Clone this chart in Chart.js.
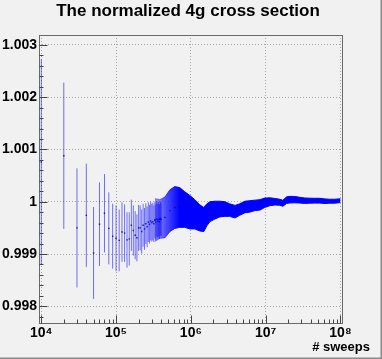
<!DOCTYPE html>
<html>
<head>
<meta charset="utf-8">
<script src="https://cdn.jsdelivr.net/npm/chart.js@4.4.1/dist/chart.umd.min.js"></script>
<style>
  html, body { margin: 0; padding: 0; background: #f1f1f1; }
  canvas { display: block; }
</style>
</head>
<body>
<canvas id="c" width="382" height="359"></canvas>
<script>
// ---- data ----
const sweeps = [10000, 20000, 30000, 40000, 50000, 60000, 70000, 80000, 90000, 100000,
  110000, 120000, 130000, 140000, 150000, 160000, 170000, 180000, 190000, 200000,
  210000, 220000, 230000, 240000, 250000, 260000, 270000, 280000, 290000, 300000,
  310000, 320000, 330000, 340000, 350000, 360000, 370000, 380000, 390000, 400000];
const sparseVals = [1.00076, 1.00088, 0.99950, 0.99974, 0.99902, 0.99957, 0.99978, 0.99949, 0.99934, 0.99930,
  0.99926, 0.99942, 0.99940, 0.99927, 0.99929, 0.99955, 0.99945, 0.99936, 0.99931, 0.99950,
  0.99950, 0.99943, 0.99955, 0.99948, 0.99958, 0.99952, 0.99961, 0.99957, 0.99963, 0.99960,
  0.99962, 0.99958, 0.99965, 0.99961, 0.99967, 0.99963, 0.99966, 0.99962, 0.99968, 0.99966];
const sparseErrs = [0.00197, 0.00140, 0.00114, 0.00099, 0.00088, 0.00080, 0.00075, 0.00069, 0.00062, 0.00063,
  0.00059, 0.00057, 0.00055, 0.00053, 0.00051, 0.00049, 0.00048, 0.00046, 0.00045, 0.00044,
  0.00043, 0.00042, 0.00041, 0.00040, 0.00039, 0.00039, 0.00038, 0.00037, 0.00037, 0.00036,
  0.00036, 0.00035, 0.00035, 0.00034, 0.00034, 0.00033, 0.00033, 0.00033, 0.00032, 0.00032];

const bandSweeps = [3.3e5, 3.85e5, 4.5e5, 5.25e5, 6.1e5, 7.1e5, 8.3e5, 9.7e5, 1.13e6, 1.32e6,
  1.49e6, 1.64e6, 1.8e6, 2.1e6, 2.44e6, 2.85e6, 3.3e6, 3.9e6, 4.5e6, 5.3e6,
  6.1e6, 7.2e6, 8.4e6, 9.7e6, 1.14e7, 1.33e7, 1.55e7, 1.7e7, 1.9e7, 2.1e7,
  2.45e7, 2.86e7, 3.33e7, 3.9e7, 4.5e7, 5.3e7, 6.2e7, 7.2e7, 8.4e7, 1e8];
const bandVals = [0.99965, 0.99967, 0.99970, 0.99983, 0.99989, 0.99989, 0.99985, 0.99980, 0.99976, 0.99969,
  0.99966, 0.99975, 0.99981, 0.99984, 0.99986, 0.99986, 0.99984, 0.99981, 0.99985, 0.99990,
  0.99991, 0.99993, 0.99994, 0.99998, 1.00000, 1.00000, 0.99999, 0.99997, 1.00003, 1.00004,
  1.00004, 1.00003, 1.00002, 1.00002, 1.00002, 1.00002, 1.00001, 1.00001, 1.00001, 1.00002];
const bandErrs = [0.00041, 0.00037, 0.00039, 0.00040, 0.00040, 0.00038, 0.00034, 0.00032, 0.00028, 0.00025,
  0.00023, 0.00021, 0.00019, 0.00017, 0.00015, 0.00014, 0.00012, 0.00012, 0.00011, 0.00011,
  0.00011, 0.00010, 0.00010, 0.00009, 0.000075, 0.000063, 0.000057, 0.000057, 0.000063, 0.000063,
  0.000061, 0.000055, 0.000052, 0.000048, 0.000046, 0.000046, 0.000044, 0.000038, 0.000038, 0.000036];

const xTickValues = [1e4, 1e5, 1e6, 1e7, 1e8];
const xTickLabels = ['10\u2074', '10\u2075', '10\u2076', '10\u2077', '10\u2078'];
const yTickValues = [0.998, 0.999, 1.000, 1.001, 1.002, 1.003];
const yTickLabels = ['0.998', '0.999', '1', '1.001', '1.002', '1.003'];
const titleText = 'The normalized 4g cross section';
const xAxisTitle = '# sweeps';

// ---- build library-ready structures ----
const errSegments = [];
sweeps.forEach((s, i) => {
  errSegments.push({x: s, y: sparseVals[i] - sparseErrs[i]});
  errSegments.push({x: s, y: sparseVals[i] + sparseErrs[i]});
  errSegments.push({x: s, y: null});
});
const markers = sweeps.map((s, i) => ({x: s, y: sparseVals[i]}))
  .concat(bandSweeps.slice(0, 6).map((s, i) => ({x: s, y: bandVals[i]})));
const bandLo = bandSweeps.map((s, i) => ({x: s, y: bandVals[i] - bandErrs[i]}));
const bandHi = bandSweeps.map((s, i) => ({x: s, y: bandVals[i] + bandErrs[i]}));

const FONT = 'Liberation Sans';

function bandColor(context) {
  const chart = context.chart;
  const area = chart.chartArea;
  if (!area) return '#0000ff';
  const xs = chart.scales.x;
  const x0 = xs.getPixelForValue(bandSweeps[0]);
  const x1 = xs.getPixelForValue(bandSweeps[5]);
  const g = chart.ctx.createLinearGradient(x0, 0, x1, 0);
  g.addColorStop(0, 'rgba(40,40,255,0.45)');
  g.addColorStop(0.45, 'rgba(20,20,255,0.75)');
  g.addColorStop(1, 'rgba(0,0,255,1)');
  return g;
}

const rootPlugin = {
  id: 'rootStyle',
  beforeDraw(chart) {
    const ctx = chart.ctx;
    ctx.save();
    ctx.fillStyle = '#f1f1f1';
    ctx.fillRect(0, 0, chart.width, chart.height);
    ctx.strokeStyle = '#8a8a8a';
    ctx.lineWidth = 1.5;
    ctx.beginPath();
    ctx.moveTo(chart.width - 0.75, 0);
    ctx.lineTo(chart.width - 0.75, chart.height - 0.75);
    ctx.lineTo(0, chart.height - 0.75);
    ctx.stroke();
    ctx.restore();
  },
  afterDraw(chart) {
    const ctx = chart.ctx;
    const a = chart.chartArea;
    const xs = chart.scales.x, ys = chart.scales.y;
    ctx.save();
    // frame
    ctx.strokeStyle = '#6a6a6a';
    ctx.lineWidth = 1;
    ctx.strokeRect(Math.round(a.left) + 0.5, Math.round(a.top) + 0.5,
      Math.round(a.right - a.left) - 1, Math.round(a.bottom - a.top));
    // ticks (inward)
    ctx.strokeStyle = '#444';
    ctx.beginPath();
    const L = Math.round(a.left) + 0.5, B = Math.round(a.bottom) + 0.5;
    for (let i = -22; i <= 31; i++) {
      const v = 1 + i * 0.0002;
      if (v < ys.min || v > ys.max) continue;
      const y = Math.round(ys.getPixelForValue(v)) + 0.5;
      const major = (i % 5 === 0);
      ctx.moveTo(L, y);
      ctx.lineTo(L + (major ? 8 : 4), y);
    }
    for (let d = 3; d <= 8; d++) {
      for (let m = 1; m <= 9; m++) {
        const v = m * Math.pow(10, d);
        if (v < xs.min || v > xs.max) continue;
        const x = Math.round(xs.getPixelForValue(v)) + 0.5;
        ctx.moveTo(x, B);
        ctx.lineTo(x, B - (m === 1 ? 8 : 4));
      }
    }
    ctx.stroke();
    // axis title
    ctx.fillStyle = '#000';
    ctx.font = 'bold 13px "' + FONT + '"';
    ctx.textAlign = 'right';
    ctx.textBaseline = 'alphabetic';
    ctx.fillText(xAxisTitle, 370, 351);
    ctx.restore();
  }
};

new Chart(document.getElementById('c'), {
  type: 'scatter',
  data: {
    datasets: [
      {
        label: 'errors',
        data: errSegments,
        showLine: true,
        spanGaps: false,
        borderColor: 'rgba(0,0,255,0.55)',
        borderWidth: 1,
        pointRadius: 0,
        fill: false
      },
      {
        label: 'values',
        data: markers,
        showLine: false,
        pointStyle: 'rect',
        pointRadius: 1,
        pointBackgroundColor: 'rgba(0,0,190,0.9)',
        pointBorderWidth: 0
      },
      {
        label: 'band low',
        data: bandLo,
        showLine: true,
        borderColor: bandColor,
        borderWidth: 1,
        pointRadius: 0,
        fill: false
      },
      {
        label: 'band high',
        data: bandHi,
        showLine: true,
        borderColor: bandColor,
        backgroundColor: bandColor,
        borderWidth: 1,
        pointRadius: 0,
        fill: '-1'
      }
    ]
  },
  options: {
    responsive: false,
    animation: false,
    devicePixelRatio: 1,
    layout: { padding: { left: 0, right: 6, top: 0, bottom: 0 } },
    plugins: {
      legend: { display: false },
      tooltip: { enabled: false },
      title: {
        display: true,
        text: titleText,
        color: '#000',
        font: { family: FONT, size: 17, weight: 'bold', lineHeight: 1.2 },
        padding: { top: 1, bottom: 13.6 }
      }
    },
    scales: {
      x: {
        type: 'logarithmic',
        min: 9318,
        max: 1.083e8,
        afterBuildTicks: s => { s.ticks = xTickValues.map(v => ({ value: v })); },
        afterFit: s => { s.height = 36; },
        ticks: {
          callback: (v, i) => xTickLabels[i],
          color: '#000',
          font: { family: FONT, size: 14, weight: 'bold' },
          padding: 2,
          maxRotation: 0,
          autoSkip: false
        },
        grid: { color: '#a5a5a5', lineWidth: 1, drawTicks: false },
        border: { display: false, dash: [1, 2] }
      },
      y: {
        type: 'linear',
        min: 0.99768,
        max: 1.00319,
        afterBuildTicks: s => { s.ticks = yTickValues.map(v => ({ value: v })); },
        afterFit: s => { s.width = 39; },
        ticks: {
          callback: (v, i) => yTickLabels[i],
          color: '#000',
          font: { family: FONT, size: 14, weight: 'bold' },
          padding: 2
        },
        grid: { color: '#a5a5a5', lineWidth: 1, drawTicks: false },
        border: { display: false, dash: [1, 2] }
      },
      y2: {
        position: 'right',
        display: true,
        min: 0, max: 1,
        afterFit: s => { s.width = 33; },
        ticks: { display: false },
        grid: { display: false, drawTicks: false },
        border: { display: false }
      }
    }
  },
  plugins: [rootPlugin]
});
</script>
</body>
</html>
